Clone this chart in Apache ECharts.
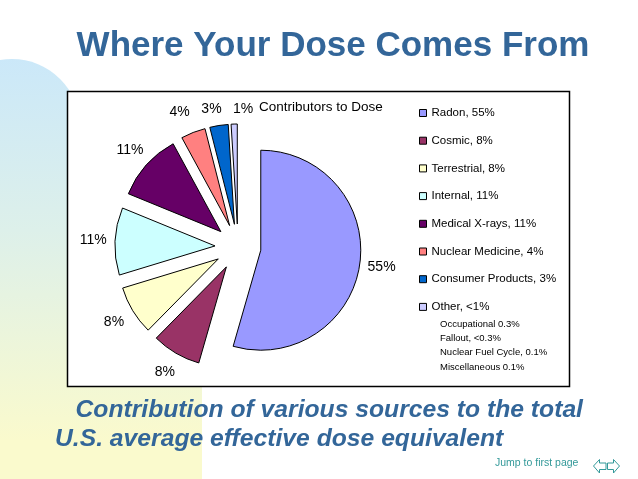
<!DOCTYPE html>
<html><head><meta charset="utf-8">
<script src="https://cdn.jsdelivr.net/npm/echarts@6/dist/echarts.min.js"></script>
<style>html,body{margin:0;padding:0;background:#fff}#c{width:638px;height:479px}</style>
</head><body><div id="c"></div>
<script>
// ---- data ----
const categories = ['Radon', 'Cosmic', 'Terrestrial', 'Internal', 'Medical X-rays', 'Nuclear Medicine', 'Consumer Products', 'Other'];
const values = [55, 8, 8, 11, 11, 4, 3, 1];
const legendValueLabels = ['55%', '8%', '8%', '11%', '11%', '4%', '3%', '<1%'];
const otherBreakdown = ['Occupational 0.3%', 'Fallout, <0.3%', 'Nuclear Fuel Cycle, 0.1%', 'Miscellaneous 0.1%'];
const titleText = 'Where Your Dose Comes From';
const chartTitle = 'Contributors to Dose';
const captionLines = ['Contribution of various sources to the total', 'U.S. average effective dose equivalent'];
const navText = 'Jump to first page';

// ---- styles ----
const colors = ['#9999FF', '#993366', '#FFFFCC', '#CCFFFF', '#660066', '#FF8080', '#0066CC', '#CCCCFF'];
const FONT = '"Liberation Sans", Arial, sans-serif';
const CX = 238, CY = 247, R = 100, OFFSET = 23, LABEL_D = 142;
const CHART_TITLE_Y = 107;
const LABEL_MIN_Y = 112;

// horizontal spreading of label centres that would collide (Excel-like),
// and keep labels from rising above the chart-title line
const ctx = document.createElement('canvas').getContext('2d');
ctx.font = '14px ' + FONT;
const total = values.reduce((a, b) => a + b, 0);
let acc = 0;
const labelPos = values.map(v => {
  const mid = (acc + v / 2) / total * 2 * Math.PI;
  acc += v;
  const x = CX + Math.sin(mid) * LABEL_D;
  return { x0: x, x: x, y: CY - Math.cos(mid) * LABEL_D, w: ctx.measureText(v + '%').width };
});
for (let it = 0; it < 30; it++) {
  for (let i = 0; i < labelPos.length; i++) for (let j = i + 1; j < labelPos.length; j++) {
    const a = labelPos[i], b = labelPos[j];
    if (Math.abs(a.y - b.y) < 16) {
      const need = (a.w + b.w) / 2 + 11;
      const dx = b.x - a.x;
      if (Math.abs(dx) < need) {
        const ov = (need - Math.abs(dx)) / 2;
        if (dx >= 0) { a.x -= ov; b.x += ov; } else { a.x += ov; b.x -= ov; }
      }
    }
  }
}

const chart = echarts.init(document.getElementById('c'), null, { renderer: 'canvas' });
const grad = new echarts.graphic.LinearGradient(0, 58, 0, 440, [
  { offset: 0, color: '#CBE8F9' },
  { offset: 0.45, color: '#DDF0EA' },
  { offset: 1, color: '#FAFACD' }
], true);
const NAV = '#339999';

const graphics = [
  { type: 'circle', z: -20, shape: { cx: 12, cy: 127, r: 68 }, style: { fill: grad } },
  { type: 'rect', z: -20, shape: { x: 0, y: 127, width: 202, height: 360 }, style: { fill: grad } },
  { type: 'rect', z: -10, shape: { x: 67.5, y: 91.5, width: 502, height: 295 }, style: { fill: '#fff', stroke: '#000', lineWidth: 1.5 } },
  { type: 'text', x: 333, y: 46, style: { text: titleText, font: 'bold 35px ' + FONT, fill: '#336699', textAlign: 'center', textVerticalAlign: 'middle' } },
  { type: 'text', x: 259, y: CHART_TITLE_Y, style: { text: chartTitle, font: '13.5px ' + FONT, fill: '#000', textAlign: 'left', textVerticalAlign: 'middle' } },
  { type: 'text', x: 75.5, y: 410, style: { text: captionLines[0], font: 'italic bold 24.7px ' + FONT, fill: '#336699', textAlign: 'left', textVerticalAlign: 'middle' } },
  { type: 'text', x: 55, y: 439, style: { text: captionLines[1], font: 'italic bold 24.7px ' + FONT, fill: '#336699', textAlign: 'left', textVerticalAlign: 'middle' } },
  { type: 'text', x: 495, y: 463, style: { text: navText, font: '10.5px ' + FONT, fill: NAV, textAlign: 'left', textVerticalAlign: 'middle' } },
  { type: 'polygon', shape: { points: [[593.5, 466], [599.5, 459.5], [599.5, 463], [606, 463], [606, 469.5], [599.5, 469.5], [599.5, 473]] }, style: { fill: '#fff', stroke: NAV, lineWidth: 1 } },
  { type: 'polygon', shape: { points: [[619.5, 466], [613.5, 459.5], [613.5, 463], [607.5, 463], [607.5, 469.5], [613.5, 469.5], [613.5, 473]] }, style: { fill: '#fff', stroke: NAV, lineWidth: 1 } }
];
otherBreakdown.forEach((t, i) => graphics.push({
  type: 'text', x: 440, y: 324 + i * 14.4,
  style: { text: t, font: '9.5px ' + FONT, fill: '#000', textAlign: 'left', textVerticalAlign: 'middle' }
}));

const pieData = categories.map((c, i) => ({ name: c, value: values[i] }));

chart.setOption({
  animation: false,
  color: colors,
  graphic: graphics,
  legend: {
    orient: 'vertical', left: 414, top: 102,
    itemWidth: 7, itemHeight: 7, itemGap: 15.7,
    icon: 'rect', selectedMode: false,
    itemStyle: { borderColor: '#000', borderWidth: 1 },
    textStyle: { fontFamily: FONT, fontSize: 11.5, color: '#000', lineHeight: 12 },
    formatter: name => name + ', ' + legendValueLabels[categories.indexOf(name)],
    data: categories
  },
  series: [{
    name: 'dose',
    type: 'pie',
    center: [CX, CY], radius: R,
    startAngle: 90, clockwise: true,
    selectedMode: 'multiple', selectedOffset: OFFSET,
    itemStyle: { borderColor: '#000', borderWidth: 1 },
    select: { itemStyle: { borderColor: '#000', borderWidth: 1 } },
    emphasis: { disabled: true },
    label: { show: false },
    labelLine: { show: false },
    data: pieData.map(d => Object.assign({ selected: true }, d))
  }, {
    name: 'labels',
    type: 'pie',
    center: [CX, CY], radius: [LABEL_D - 10, LABEL_D + 10],
    startAngle: 90, clockwise: true,
    silent: true, selectedMode: false,
    emphasis: { disabled: true },
    itemStyle: { color: 'rgba(0,0,0,0)', borderWidth: 0 },
    label: { show: true, position: 'inside', formatter: p => p.value + '%', fontFamily: FONT, fontSize: 14, color: '#000' },
    labelLine: { show: false },
    labelLayout: p => {
      const q = labelPos[p.dataIndex];
      return { dx: q.x - q.x0, dy: Math.max(0, LABEL_MIN_Y - q.y) };
    },
    data: pieData
  }]
});
</script>
</body></html>
